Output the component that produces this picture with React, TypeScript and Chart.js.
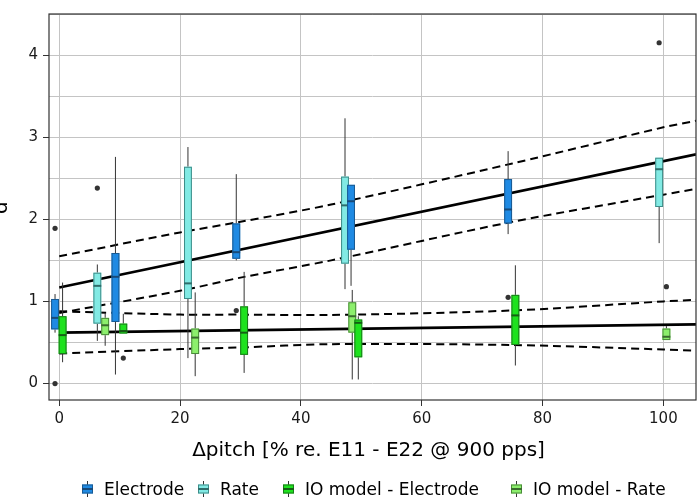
import React, { useEffect, useRef } from 'react';
import { Chart, registerables } from 'chart.js';

Chart.register(...registerables);

// ---------- axes ----------
const X_MIN = -1.7;
const X_MAX = 105.4;
const X_TICKS = [0, 20, 40, 60, 80, 100];
const Y_MIN = -0.2;
const Y_MAX = 4.5;
const Y_GRID = [0, 0.5, 1, 1.5, 2, 2.5, 3, 3.5, 4, 4.5];
const Y_LABELS = [0, 1, 2, 3, 4];
const X_TITLE = 'Δpitch [% re. E11 - E22 @ 900 pps]';
const Y_TITLE = "d'";

// ---------- box plots (x position, whisker low, Q1, median, Q3, whisker high) ----------
const ELECTRODE_X = [-0.7, 9.3, 29.3, 48.3, 74.3];
const ELECTRODE_LOW = [0.62, 0.11, 1.5, 1.19, 1.82];
const ELECTRODE_Q1 = [0.66, 0.75, 1.52, 1.63, 1.95];
const ELECTRODE_MED = [0.8, 1.3, 1.6, 2.22, 2.12];
const ELECTRODE_Q3 = [1.03, 1.59, 1.95, 2.42, 2.49];
const ELECTRODE_HIGH = [1.09, 2.76, 2.55, 2.42, 2.83];
const ELECTRODE_OUT_X = [-0.7, -0.7, 29.3, 74.3];
const ELECTRODE_OUT_Y = [1.89, 0.0, 0.89, 1.05];

const RATE_X = [6.3, 21.3, 47.3, 99.3];
const RATE_LOW = [0.52, 0.31, 1.15, 1.71];
const RATE_Q1 = [0.73, 1.03, 1.46, 2.15];
const RATE_MED = [1.19, 1.22, 2.17, 2.61];
const RATE_Q3 = [1.35, 2.64, 2.52, 2.75];
const RATE_HIGH = [1.45, 2.88, 3.23, 2.75];
const RATE_OUT_X = [6.3, 99.3];
const RATE_OUT_Y = [2.38, 4.15];

const IO_ELECTRODE_X = [0.55, 10.6, 30.6, 49.5, 75.5];
const IO_ELECTRODE_LOW = [0.26, 0.61, 0.13, 0.05, 0.22];
const IO_ELECTRODE_Q1 = [0.36, 0.61, 0.35, 0.32, 0.47];
const IO_ELECTRODE_MED = [0.59, 0.64, 0.62, 0.74, 0.83];
const IO_ELECTRODE_Q3 = [0.82, 0.73, 0.94, 0.78, 1.08];
const IO_ELECTRODE_HIGH = [1.23, 0.85, 1.36, 0.82, 1.44];
const IO_ELECTRODE_OUT_X = [10.6];
const IO_ELECTRODE_OUT_Y = [0.31];

const IO_RATE_X = [7.6, 22.5, 48.5, 100.5];
const IO_RATE_LOW = [0.46, 0.09, 0.05, 0.53];
const IO_RATE_Q1 = [0.59, 0.36, 0.62, 0.53];
const IO_RATE_MED = [0.71, 0.56, 0.82, 0.57];
const IO_RATE_Q3 = [0.8, 0.67, 0.99, 0.67];
const IO_RATE_HIGH = [0.86, 1.11, 1.14, 0.7];
const IO_RATE_OUT_X = [100.5];
const IO_RATE_OUT_Y = [1.18];

// ---------- regression lines with confidence bands ----------
const FIT_X = [0, 105.4];
const ELEC_FIT_Y = [1.17, 2.79];
const ELEC_UPPER_X = [0, 20, 30, 45, 75, 100, 105.4];
const ELEC_UPPER_Y = [1.55, 1.84, 1.97, 2.18, 2.68, 3.12, 3.2];
const ELEC_LOWER_X = [0, 20, 30, 45, 75, 100, 105.4];
const ELEC_LOWER_Y = [0.86, 1.13, 1.29, 1.5, 1.97, 2.3, 2.37];

const IO_FIT_Y = [0.62, 0.72];
const IO_UPPER_X = [0, 20, 30, 45, 75, 100, 105.4];
const IO_UPPER_Y = [0.88, 0.84, 0.84, 0.835, 0.89, 1.0, 1.02];
const IO_LOWER_X = [0, 20, 30, 45, 75, 100, 105.4];
const IO_LOWER_Y = [0.365, 0.42, 0.44, 0.48, 0.47, 0.415, 0.4];

// ---------- styling ----------
const BOX_WIDTH = 1.3; // in x data units
const FONT = "'DejaVu Sans', sans-serif";

type BoxSeries = {
  label: string;
  x: number[];
  low: number[];
  q1: number[];
  med: number[];
  q3: number[];
  high: number[];
  fill: string;
  border: string;
  median: string;
};

const SERIES: BoxSeries[] = [
  { label: 'Rate', x: RATE_X, low: RATE_LOW, q1: RATE_Q1, med: RATE_MED, q3: RATE_Q3, high: RATE_HIGH, fill: '#82eae4', border: '#3e8c88', median: '#2e6d6a' },
  { label: 'Electrode', x: ELECTRODE_X, low: ELECTRODE_LOW, q1: ELECTRODE_Q1, med: ELECTRODE_MED, q3: ELECTRODE_Q3, high: ELECTRODE_HIGH, fill: '#1f8ae3', border: '#1a5a92', median: '#184a78' },
  { label: 'IO model - Rate', x: IO_RATE_X, low: IO_RATE_LOW, q1: IO_RATE_Q1, med: IO_RATE_MED, q3: IO_RATE_Q3, high: IO_RATE_HIGH, fill: '#8cef6c', border: '#4a8a3a', median: '#3a6c2e' },
  { label: 'IO model - Electrode', x: IO_ELECTRODE_X, low: IO_ELECTRODE_LOW, q1: IO_ELECTRODE_Q1, med: IO_ELECTRODE_MED, q3: IO_ELECTRODE_Q3, high: IO_ELECTRODE_HIGH, fill: '#1ee21e', border: '#1a7a1a', median: '#145e14' },
];

const LEGEND_ORDER = ['Electrode', 'Rate', 'IO model - Electrode', 'IO model - Rate'];
const LEGEND_LEFT = [82, 198, 283, 511];

const pts = (xs: number[], ys: number[]) => xs.map((x, i) => ({ x, y: ys[i] }));

function drawGlyph(ctx: CanvasRenderingContext2D, left: number, yc: number, s: BoxSeries) {
  const cx = left + 5.5;
  ctx.strokeStyle = '#333';
  ctx.lineWidth = 1;
  ctx.beginPath();
  ctx.moveTo(cx, yc - 8);
  ctx.lineTo(cx, yc + 8);
  ctx.stroke();
  ctx.fillStyle = s.fill;
  ctx.fillRect(left, yc - 4.5, 11, 9);
  ctx.strokeStyle = s.border;
  ctx.strokeRect(left + 0.5, yc - 4, 10, 8);
  ctx.strokeStyle = s.median;
  ctx.lineWidth = 2;
  ctx.beginPath();
  ctx.moveTo(left, yc);
  ctx.lineTo(left + 11, yc);
  ctx.stroke();
}

const boxPlugin = {
  id: 'boxPlugin',
  afterDatasetsDraw(chart: any) {
    const { ctx, chartArea } = chart;
    const xs = chart.scales.x;
    const ys = chart.scales.y;
    ctx.save();
    ctx.beginPath();
    ctx.rect(chartArea.left, chartArea.top, chartArea.right - chartArea.left, chartArea.bottom - chartArea.top);
    ctx.clip();
    for (const s of SERIES) {
      for (let i = 0; i < s.x.length; i++) {
        const cx = xs.getPixelForValue(s.x[i]);
        const l = xs.getPixelForValue(s.x[i] - BOX_WIDTH / 2);
        const r = xs.getPixelForValue(s.x[i] + BOX_WIDTH / 2);
        const yLow = ys.getPixelForValue(s.low[i]);
        const yQ1 = ys.getPixelForValue(s.q1[i]);
        const yMed = ys.getPixelForValue(s.med[i]);
        const yQ3 = ys.getPixelForValue(s.q3[i]);
        const yHigh = ys.getPixelForValue(s.high[i]);
        ctx.strokeStyle = '#333';
        ctx.lineWidth = 1;
        ctx.beginPath();
        ctx.moveTo(cx, yLow);
        ctx.lineTo(cx, yQ1);
        ctx.moveTo(cx, yQ3);
        ctx.lineTo(cx, yHigh);
        ctx.stroke();
        ctx.fillStyle = s.fill;
        ctx.fillRect(l, yQ3, r - l, yQ1 - yQ3);
        ctx.strokeStyle = s.border;
        ctx.lineWidth = 1;
        ctx.strokeRect(l + 0.5, yQ3 + 0.5, r - l - 1, yQ1 - yQ3 - 1);
        ctx.strokeStyle = s.median;
        ctx.lineWidth = 2;
        ctx.beginPath();
        ctx.moveTo(l, yMed);
        ctx.lineTo(r, yMed);
        ctx.stroke();
      }
    }
    ctx.restore();
  },
  afterDraw(chart: any) {
    const { ctx, chartArea } = chart;
    ctx.save();
    // panel border
    ctx.strokeStyle = '#333';
    ctx.lineWidth = 1.2;
    ctx.strokeRect(chartArea.left, chartArea.top, chartArea.right - chartArea.left, chartArea.bottom - chartArea.top);
    // x title
    ctx.fillStyle = '#000';
    ctx.font = `20px ${FONT}`;
    ctx.textAlign = 'center';
    ctx.textBaseline = 'alphabetic';
    ctx.fillText(X_TITLE, (chartArea.left + chartArea.right) / 2 - 4, 456);
    // y title
    ctx.save();
    ctx.translate(7, 205);
    ctx.rotate(-Math.PI / 2);
    ctx.fillText(Y_TITLE, 0, 0);
    ctx.restore();
    // legend
    ctx.font = `17px ${FONT}`;
    ctx.textAlign = 'left';
    LEGEND_ORDER.forEach((name, k) => {
      const s = SERIES.find((d) => d.label === name)!;
      const left = LEGEND_LEFT[k];
      drawGlyph(ctx, left, 489, s);
      ctx.fillStyle = '#000';
      ctx.textBaseline = 'alphabetic';
      ctx.fillText(name, left + 22, 495);
    });
    ctx.restore();
  },
};

export default function App() {
  const ref = useRef<HTMLCanvasElement>(null);
  useEffect(() => {
    if (!ref.current) return;
    const solid = { borderColor: '#000', borderWidth: 2.7, pointRadius: 0, showLine: true, fill: false };
    const dashed = { borderColor: '#000', borderWidth: 2, borderDash: [8, 5], pointRadius: 0, showLine: true, fill: false, tension: 0.3 };
    const chart = new Chart(ref.current, {
      type: 'scatter',
      data: {
        datasets: [
          {
            label: 'outliers',
            data: [
              ...pts(ELECTRODE_OUT_X, ELECTRODE_OUT_Y),
              ...pts(RATE_OUT_X, RATE_OUT_Y),
              ...pts(IO_ELECTRODE_OUT_X, IO_ELECTRODE_OUT_Y),
              ...pts(IO_RATE_OUT_X, IO_RATE_OUT_Y),
            ],
            pointRadius: 2.6,
            backgroundColor: '#333',
            borderWidth: 0,
            showLine: false,
          } as any,
          { label: 'fit electrode/rate', data: pts(FIT_X, ELEC_FIT_Y), ...solid } as any,
          { label: 'upper electrode/rate', data: pts(ELEC_UPPER_X, ELEC_UPPER_Y), ...dashed } as any,
          { label: 'lower electrode/rate', data: pts(ELEC_LOWER_X, ELEC_LOWER_Y), ...dashed } as any,
          { label: 'fit IO', data: pts(FIT_X, IO_FIT_Y), ...solid } as any,
          { label: 'upper IO', data: pts(IO_UPPER_X, IO_UPPER_Y), ...dashed } as any,
          { label: 'lower IO', data: pts(IO_LOWER_X, IO_LOWER_Y), ...dashed } as any,
        ],
      },
      options: {
        animation: false,
        responsive: false,
        layout: { padding: { top: 1, right: 1, left: 0, bottom: 0 } },
        plugins: { legend: { display: false }, tooltip: { enabled: false } },
        scales: {
          x: {
            type: 'linear',
            min: X_MIN,
            max: X_MAX,
            afterBuildTicks: (scale: any) => {
              scale.ticks = X_TICKS.map((v) => ({ value: v }));
            },
            afterFit: (scale: any) => {
              scale.height = 97;
            },
            grid: { color: '#c4c4c4', lineWidth: 1, tickColor: '#333', tickLength: 6, drawTicks: true },
            border: { display: false },
            ticks: {
              font: { family: FONT, size: 15 },
              color: '#1a1a1a',
              padding: 4,
              maxRotation: 0,
              callback: (v: any) => String(v),
            },
          },
          y: {
            type: 'linear',
            min: Y_MIN,
            max: Y_MAX,
            afterBuildTicks: (scale: any) => {
              scale.ticks = Y_GRID.map((v) => ({ value: v }));
            },
            afterFit: (scale: any) => {
              scale.width = 49;
            },
            grid: {
              color: '#c4c4c4',
              lineWidth: 1,
              tickLength: 6,
              tickColor: (ctx: any) => (Y_LABELS.includes(ctx.tick?.value) ? '#333' : 'rgba(0,0,0,0)'),
            },
            border: { display: false },
            ticks: {
              font: { family: FONT, size: 15 },
              color: '#1a1a1a',
              padding: 5,
              callback: (v: any) => (Y_LABELS.includes(Number(v)) ? String(v) : ''),
            },
          },
        },
      },
      plugins: [boxPlugin],
    } as any);
    return () => chart.destroy();
  }, []);
  return (
    <canvas
      ref={ref}
      width={700}
      height={497}
      style={{ position: 'fixed', left: 0, top: 0, display: 'block', width: 700, height: 497 }}
    />
  );
}
